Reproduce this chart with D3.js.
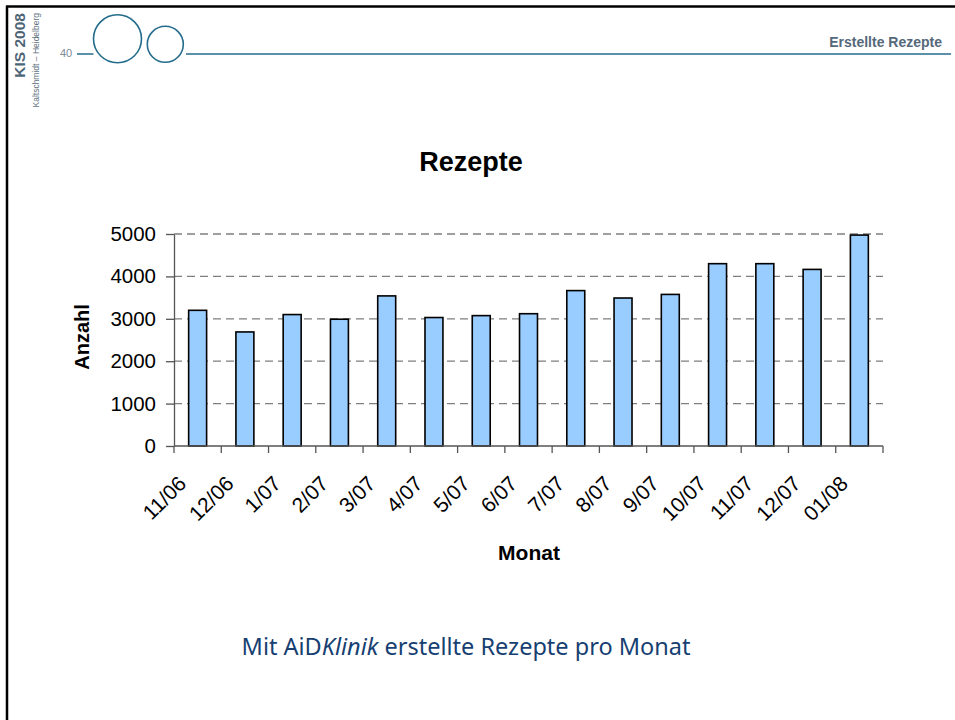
<!DOCTYPE html>
<html>
<head>
<meta charset="utf-8">
<script src="https://cdn.jsdelivr.net/npm/d3@7"></script>
<style>
  body { margin: 0; background: #fff; }
  svg { display: block; }
</style>
</head>
<body>
<svg id="slide" width="955" height="720"></svg>
<script>
// data
var months = ["11/06", "12/06", "1/07", "2/07", "3/07", "4/07", "5/07", "6/07",
              "7/07", "8/07", "9/07", "10/07", "11/07", "12/07", "01/08"];
var rezepte = [3200, 2690, 3100, 2990, 3540, 3030, 3075, 3120,
               3665, 3490, 3575, 4300, 4300, 4165, 4975];
var yTicks = [0, 1000, 2000, 3000, 4000, 5000];

var svg = d3.select("#slide");

// slide frame
svg.append("line").attr("x1", 6).attr("x2", 955).attr("y1", 6.5).attr("y2", 6.5)
  .attr("stroke", "#000").attr("stroke-width", 2.5);
svg.append("line").attr("x1", 7).attr("x2", 7).attr("y1", 6).attr("y2", 720)
  .attr("stroke", "#000").attr("stroke-width", 2.5);

// header
svg.append("text")
  .attr("transform", "translate(25,13) rotate(-90)")
  .attr("text-anchor", "end")
  .style("font", "bold 15.5px 'Liberation Sans', Arial, sans-serif")
  .attr("fill", "#4d6475")
  .text("KIS 2008");
svg.append("text")
  .attr("transform", "translate(39,13) rotate(-90)")
  .attr("text-anchor", "end")
  .style("font", "8.5px 'Liberation Sans', Arial, sans-serif")
  .attr("fill", "#5f7282")
  .text("Kaltschmidt – Heidelberg");
svg.append("text")
  .attr("x", 60).attr("y", 57)
  .style("font", "11px 'Liberation Sans', Arial, sans-serif")
  .attr("fill", "#7b8a96")
  .text("40");

var headColor = "#236c8c";
svg.append("line").attr("x1", 77).attr("x2", 93.5).attr("y1", 54).attr("y2", 54)
  .attr("stroke", headColor).attr("stroke-width", 1.5);
svg.append("line").attr("x1", 186).attr("x2", 951).attr("y1", 54).attr("y2", 54)
  .attr("stroke", headColor).attr("stroke-width", 1.5);
svg.append("circle").attr("cx", 117.5).attr("cy", 38.8).attr("r", 24)
  .attr("fill", "none").attr("stroke", headColor).attr("stroke-width", 1.6);
svg.append("circle").attr("cx", 165.3).attr("cy", 44.3).attr("r", 18)
  .attr("fill", "none").attr("stroke", headColor).attr("stroke-width", 1.6);

svg.append("text")
  .attr("x", 942).attr("y", 47)
  .attr("text-anchor", "end")
  .style("font", "bold 14px 'Liberation Sans', Arial, sans-serif")
  .attr("fill", "#55697a")
  .text("Erstellte Rezepte");

// chart
var x = d3.scaleBand().domain(months).range([174, 883]).padding(0);
var y = d3.scaleLinear().domain([0, 5000]).range([446, 234]);

svg.append("text")
  .attr("x", 471).attr("y", 171)
  .attr("text-anchor", "middle")
  .style("font", "bold 27px 'Liberation Sans', Arial, sans-serif")
  .attr("fill", "#000")
  .text("Rezepte");

// dashed gridlines
svg.append("g")
  .selectAll("line")
  .data(yTicks.filter(d => d > 0))
  .enter().append("line")
    .attr("x1", 174).attr("x2", 883)
    .attr("y1", d => y(d)).attr("y2", d => y(d))
    .attr("stroke", "#7f7f7f")
    .attr("stroke-width", 1.3)
    .attr("stroke-dasharray", "8,5");

// bars
var barW = x.bandwidth() * 0.38;
svg.append("g")
  .selectAll("rect")
  .data(rezepte)
  .enter().append("rect")
    .attr("x", (d, i) => x(months[i]) + (x.bandwidth() - barW) / 2)
    .attr("y", d => y(d))
    .attr("width", barW)
    .attr("height", d => y(0) - y(d))
    .attr("fill", "#99ccff")
    .attr("stroke", "#000")
    .attr("stroke-width", 1.6);

// y axis
var gy = svg.append("g")
  .attr("transform", "translate(174,0)")
  .call(d3.axisLeft(y).tickValues(yTicks).tickFormat(d3.format("d"))
    .tickSize(8).tickPadding(10).tickSizeOuter(0));
gy.select(".domain").attr("stroke", "#555").attr("stroke-width", 1.3);
gy.selectAll(".tick line").attr("stroke", "#555").attr("stroke-width", 1.3);
gy.selectAll(".tick text")
  .style("font", "20.5px 'Liberation Sans', Arial, sans-serif")
  .attr("fill", "#000");

// x axis: ticks on band boundaries
var gx = svg.append("g")
  .attr("transform", "translate(0,446)");
gx.append("line").attr("x1", 174).attr("x2", 883)
  .attr("stroke", "#555").attr("stroke-width", 1.3);
gx.selectAll(".xtick")
  .data(months.concat(["end"]))
  .enter().append("line")
    .attr("class", "xtick")
    .attr("x1", (d, i) => i < months.length ? x(d) : x.range()[1])
    .attr("x2", (d, i) => i < months.length ? x(d) : x.range()[1])
    .attr("y1", 0).attr("y2", 7)
    .attr("stroke", "#555").attr("stroke-width", 1.3);
gx.selectAll(".xlabel")
  .data(months)
  .enter().append("text")
    .attr("class", "xlabel")
    .attr("transform", d => `translate(${x(d) + x.bandwidth() / 2 - 10},39) rotate(-45)`)
    .attr("text-anchor", "end")
    .style("font", "21px 'Liberation Sans', Arial, sans-serif")
    .attr("fill", "#000")
    .text(d => d);

// axis titles
svg.append("text")
  .attr("transform", "translate(89,337) rotate(-90)")
  .attr("text-anchor", "middle")
  .style("font", "bold 20px 'Liberation Sans', Arial, sans-serif")
  .text("Anzahl");
svg.append("text")
  .attr("x", 529).attr("y", 560)
  .attr("text-anchor", "middle")
  .style("font", "bold 21px 'Liberation Sans', Arial, sans-serif")
  .text("Monat");

// caption
var cap = svg.append("text")
  .attr("x", 466).attr("y", 655)
  .attr("text-anchor", "middle")
  .style("font", "23.5px 'Noto Sans', 'Open Sans', sans-serif")
  .attr("fill", "#173f72");
cap.append("tspan").text("Mit AiD");
cap.append("tspan").style("font-style", "italic").text("Klinik");
cap.append("tspan").text(" erstellte Rezepte pro Monat");
</script>
</body>
</html>
